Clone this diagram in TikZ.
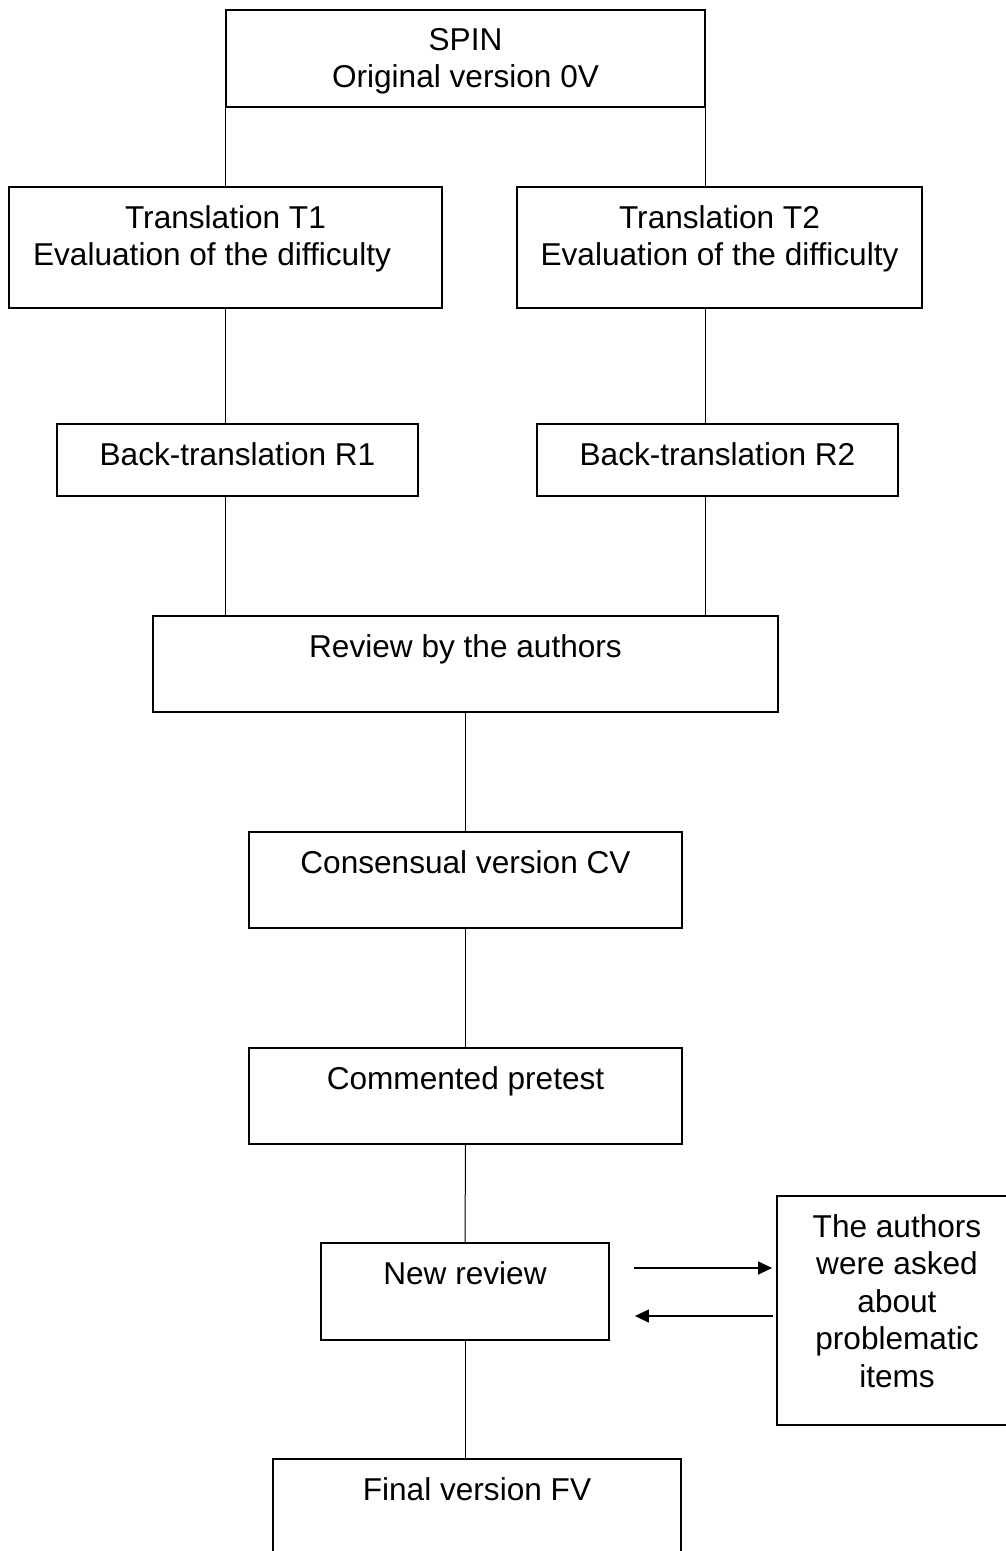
\documentclass[tikz,border=0pt]{standalone}
\usepackage{fontspec}
\setmainfont{Liberation Sans}
\usetikzlibrary{arrows.meta,calc}

\begin{document}
\begin{tikzpicture}[x=1pt,y=-1pt,
    stepbox/.style={shape=rectangle,draw,line width=1.8pt,inner sep=0pt},
    boxtext/.style={anchor=north,align=center,inner sep=0pt,yshift=-19pt,
      font=\fontsize{31.6pt}{37.5pt}\selectfont},
    link/.style={line width=1pt},
    ask/.style={line width=1.3pt,-{Triangle[length=14pt,width=13pt]}}]

      \useasboundingbox (0,0) rectangle (1006,1551);

      \path node (spin) at (465.5,58.5)
            [stepbox,minimum width=479pt,minimum height=97pt,
             label={[boxtext]north:SPIN\\Original version 0V}] {};

      \path node (t1) at (225.5,247.5)
            [stepbox,minimum width=433pt,minimum height=121pt,
             label={[boxtext]north:Translation T1\\
                    Evaluation of the difficulty\hspace*{27pt}}] {};

      \path node (t2) at (719.5,247.5)
            [stepbox,minimum width=405pt,minimum height=121pt,
             label={[boxtext]north:Translation T2\\
                    Evaluation of the difficulty}] {};

      \path node (r1) at (237.5,460)
            [stepbox,minimum width=361pt,minimum height=72pt,
             label={[boxtext]north:Back-translation R1}] {};

      \path node (r2) at (717.5,460)
            [stepbox,minimum width=361pt,minimum height=72pt,
             label={[boxtext]north:Back-translation R2}] {};

      \path node (review) at (465.5,664)
            [stepbox,minimum width=625pt,minimum height=96pt,
             label={[boxtext]north:Review by the authors}] {};

      \path node (cv) at (465.5,880)
            [stepbox,minimum width=433pt,minimum height=96pt,
             label={[boxtext]north:Consensual version CV}] {};

      \path node (pretest) at (465.5,1096)
            [stepbox,minimum width=433pt,minimum height=96pt,
             label={[boxtext]north:Commented pretest}] {};

      \path node (newrev) at (465,1291.5)
            [stepbox,minimum width=288pt,minimum height=97pt,
             label={[boxtext]north:New review}] {};

      \path node (asked) at (897,1310.5)
            [stepbox,minimum width=240pt,minimum height=229pt,
             label={[boxtext]north:The authors\\were asked\\about\\
                    problematic\\items}] {};

      \path node (final) at (477,1507)
            [stepbox,minimum width=408pt,minimum height=96pt,
             label={[boxtext]north:Final version FV}] {};

      \coordinate (lcol) at (spin.south west);
      \coordinate (rcol) at (spin.south east);

      \draw[link] (lcol) -- (lcol |- t1.north);
      \draw[link] (rcol) -- (rcol |- t2.north);
      \draw[link] (lcol |- t1.south) -- (lcol |- r1.north);
      \draw[link] (rcol |- t2.south) -- (rcol |- r2.north);
      \draw[link] (lcol |- r1.south) -- (lcol |- review.north);
      \draw[link] (rcol |- r2.south) -- (rcol |- review.north);

      \draw[link] (review.south) -- (cv.north);
      \draw[link] (cv.south) -- (pretest.north);
      \draw[link] (pretest.south) -- (newrev.north);
      \draw[link] (newrev.south) -- (newrev.south |- final.north);

      \draw[ask] ($(newrev.east)+(24,-23.5)$)
           -- ($(newrev.east -| asked.west)+(-4,-23.5)$);
      \draw[ask] ($(newrev.east -| asked.west)+(-3,24.5)$)
           -- ($(newrev.east)+(25,24.5)$);
    \end{tikzpicture}
\end{document}
